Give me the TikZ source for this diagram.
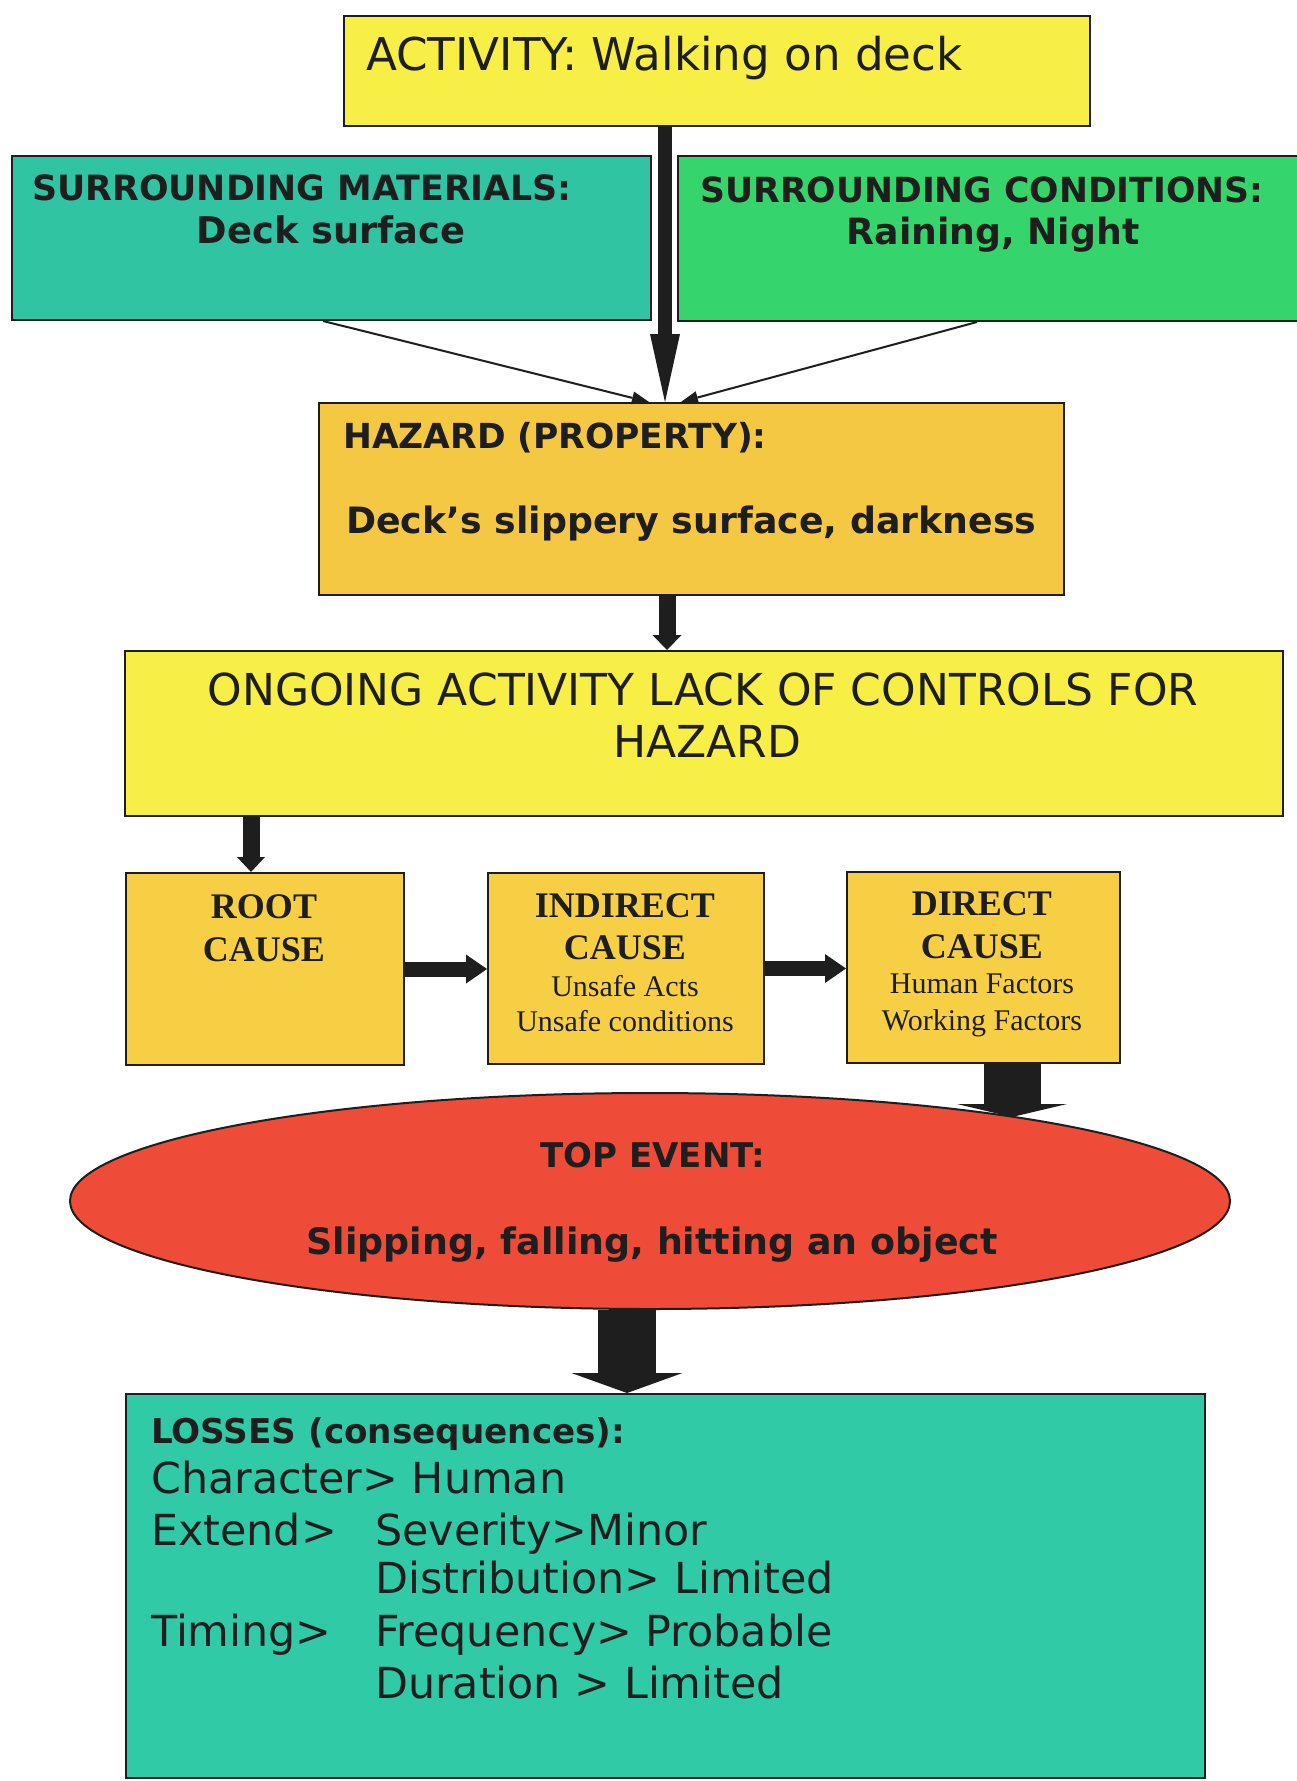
\documentclass[tikz,border=0pt]{standalone}
\usepackage{fontspec}
\setmainfont{DejaVu Sans}
\newfontfamily\timesfont{Liberation Serif}
\usetikzlibrary{arrows.meta,shapes.geometric}

\definecolor{actyellow}{HTML}{F7EF45}
\definecolor{hazgold}{HTML}{F5C843}
\definecolor{causegold}{HTML}{F6CF45}
\definecolor{matteal}{HTML}{31C4A3}
\definecolor{condgreen}{HTML}{36D46C}
\definecolor{evred}{HTML}{EE4C38}
\definecolor{lossteal}{HTML}{30CBA6}
\definecolor{ink}{HTML}{1E1E1E}

\newcommand{\fsz}[1]{\fontsize{#1}{#1}\selectfont}

\begin{document}
\begin{tikzpicture}[x=1pt,y=-1pt,
  box/.style={draw=ink, line width=2pt, rectangle, inner sep=0pt, anchor=north west},
  txt/.style={inner sep=0pt, text=ink},
  reg/.style={txt, font=\fsz{#1}},
  bld/.style={txt, font=\bfseries\fsz{#1}},
  srfb/.style={txt, font=\timesfont\bfseries\fsz{#1}},
  srf/.style={txt, font=\timesfont\fsz{#1}},
  thinarrow/.style={draw=ink, line width=2pt, -{Triangle[length=17pt,width=13pt,line width=0pt]}},
  blockarrow/.style n args={4}{draw=ink, line width=#1, -{Triangle[length=#2,width=#3,line width=0pt]}}
]
\useasboundingbox[fill=white] (0,0) rectangle (1297,1781);

% ---------- boxes ----------
\node[box, fill=actyellow, minimum width=746pt, minimum height=110pt] (act) at (343,15) {};
\node[box, fill=matteal, minimum width=639pt, minimum height=164pt] (mat) at (11,155) {};
\node[box, fill=condgreen, minimum width=623pt, minimum height=165pt] (cond) at (677,155) {};
\node[box, fill=hazgold, minimum width=745pt, minimum height=192pt] (haz) at (318,402) {};
\node[box, fill=actyellow, minimum width=1158pt, minimum height=165pt] (ong) at (124,650) {};
\node[box, fill=causegold, minimum width=278pt, minimum height=192pt] (root) at (125,872) {};
\node[box, fill=causegold, minimum width=276pt, minimum height=191pt] (ind) at (487,872) {};
\node[box, fill=causegold, minimum width=273pt, minimum height=191pt] (dir) at (846,871) {};
\node[ellipse, draw=ink, line width=2pt, fill=evred, inner sep=0pt,
      minimum width=1160pt, minimum height=216pt] (ev) at (650,1201) {};
\node[box, fill=lossteal, minimum width=1079pt, minimum height=384pt] (loss) at (125,1393) {};

% ---------- texts ----------
\node[reg=45.2, anchor=base west] (actT) at (366,70) {ACTIVITY: Walking on deck};

\node[bld=34.8, anchor=base] (matH) at (302,200) {SURROUNDING MATERIALS:};
\node[bld=36.8, anchor=base] (matB) at (331,243) {Deck surface};

\node[bld=34.6, anchor=base] (condH) at (982,202) {SURROUNDING CONDITIONS:};
\node[bld=36.2, anchor=base] (condB) at (993,244) {Raining, Night};

\node[bld=34.5, anchor=base west] (hazH) at (343,448) {HAZARD (PROPERTY):};
\node[bld=36.3, anchor=base west] (hazB) at (346,533) {Deck’s slippery surface, darkness};

\node[reg=44, anchor=base] (ongA) at (703,705) {ONGOING ACTIVITY LACK OF CONTROLS FOR};
\node[reg=44, anchor=base] (ongB) at (707,757) {HAZARD};

\node[srfb=36, anchor=base] (rootA) at (264,918) {ROOT};
\node[srfb=36, anchor=base] (rootB) at (264,961) {CAUSE};

\node[srfb=36, anchor=base] (indA) at (625,917) {INDIRECT};
\node[srfb=36, anchor=base] (indB) at (625,959) {CAUSE};
\node[srf=30, anchor=base] (indC) at (625,996) {Unsafe Acts};
\node[srf=30, anchor=base] (indD) at (625,1031) {Unsafe conditions};

\node[srfb=36, anchor=base] (dirA) at (982,915) {DIRECT};
\node[srfb=36, anchor=base] (dirB) at (982,958) {CAUSE};
\node[srf=30, anchor=base] (dirC) at (982,993) {Human Factors};
\node[srf=30, anchor=base] (dirD) at (982,1030) {Working Factors};

\node[bld=34, anchor=base] (evA) at (653,1167) {TOP EVENT:};
\node[bld=36.4, anchor=base] (evB) at (652,1254) {Slipping, falling, hitting an object};

\node[bld=34.2, anchor=base west] (lossH) at (151,1443) {LOSSES (consequences):};
\node[reg=42.8, anchor=base west] (lossA) at (151,1493) {Character> Human};
\node[reg=42.8, anchor=base west] (lossB) at (151,1545) {Extend>};
\node[reg=42.8, anchor=base west] (lossC) at (375,1545) {Severity>Minor};
\node[reg=42.8, anchor=base west] (lossD) at (375,1593) {Distribution> Limited};
\node[reg=42.8, anchor=base west] (lossE) at (151,1646) {Timing>};
\node[reg=42.8, anchor=base west] (lossF) at (375,1646) {Frequency> Probable};
\node[reg=42.8, anchor=base west] (lossG) at (375,1698) {Duration > Limited};

% ---------- connectors ----------
\draw[blockarrow={14pt}{68pt}{30pt}{}] ([xshift=-52pt]act.south) -- ([xshift=-52pt]act.south |- haz.north);
\draw[thinarrow] ([xshift=-8.5pt]mat.south) -- ([xshift=-42.5pt]haz.north);
\draw[thinarrow] ([xshift=-12.5pt]cond.south) -- ([xshift=-10.5pt]haz.north);

\draw[blockarrow={17pt}{15pt}{29pt}{}] ([xshift=-24.5pt]haz.south) -- ([xshift=-24.5pt]haz.south |- ong.north);
\draw[blockarrow={17pt}{15pt}{28pt}{}] ([xshift=-14pt]root.north |- ong.south) -- ([xshift=-14pt]root.north);

\draw[blockarrow={15pt}{21pt}{29pt}{}] (root.east) -- (root.east -| ind.west);
\draw[blockarrow={15pt}{21pt}{29pt}{}] (ind.east) -- (ind.east -| dir.west);

\draw[blockarrow={57pt}{13pt}{110pt}{}] ([xshift=28.5pt]dir.south) -- ++(0,53);
\draw[blockarrow={58pt}{20pt}{111pt}{}] ([xshift=-23pt]ev.south) -- ([xshift=-23pt]ev.south |- loss.north);

\end{tikzpicture}
\end{document}
